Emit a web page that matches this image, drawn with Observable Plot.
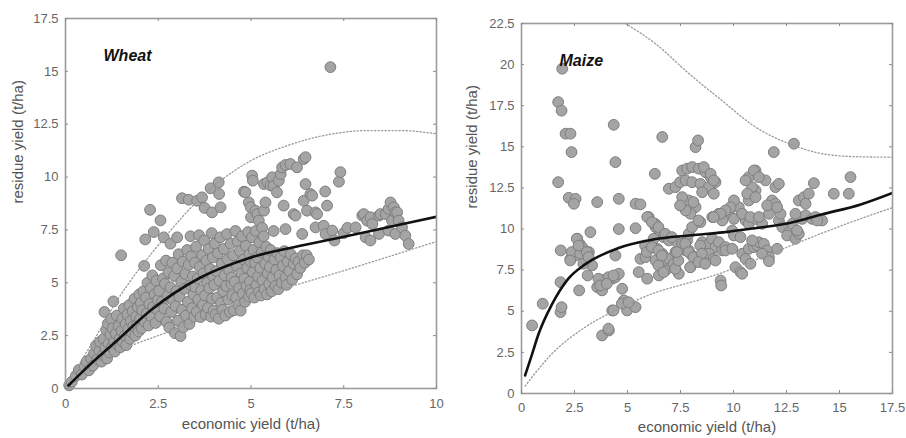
<!DOCTYPE html>
<html><head><meta charset="utf-8">
<script src="https://cdn.jsdelivr.net/npm/d3@7"></script>
<script src="https://cdn.jsdelivr.net/npm/@observablehq/plot@0.6"></script>
<style>
body{margin:0;background:#fff;}
#wrap{position:relative;width:906px;height:438px;overflow:hidden;}
#wrap svg{position:absolute;top:0;font-family:"Liberation Sans",Arial,sans-serif;}
</style></head><body><div id="wrap"></div>
<script>
// ---------- Wheat ----------
const wheatTitle = "Wheat";
const wheatXTicks = [0, 2.5, 5, 7.5, 10];
const wheatYTicks = [0, 2.5, 5, 7.5, 10, 12.5, 15, 17.5];
const wheatPoints = [
[0.1,0.15],[0.17,0.32],[0.28,0.6],[0.36,0.88],[0.44,0.66],[0.52,1.04],[0.57,1.28],[0.63,0.86],[0.69,1.41],[0.74,1.08],[0.77,1.66],[0.82,2.02],[0.86,1.38],[0.91,1.79],[0.93,2.2],[0.97,1.27],
[1.01,1.58],[1.03,2.35],[1.05,3.62],[1.07,1.92],[1.1,2.76],[1.12,1.42],[1.14,3.07],[1.16,2.12],[1.19,1.7],[1.21,2.55],[1.23,3.3],[1.25,1.95],[1.27,2.85],[1.29,4.12],[1.31,2.2],[1.33,1.75],[1.36,2.6],[1.38,3.45],[1.41,2.05],[1.43,2.95],[1.46,2.35],[1.48,1.95],[1.5,6.3],
[1.51,2.72],[1.53,3.3],[1.55,2.2],[1.57,3.78],[1.6,2.5],[1.62,3.05],[1.64,2.05],[1.67,3.5],[1.69,2.8],[1.72,3.95],[1.74,2.35],[1.76,3.2],[1.79,2.65],[1.81,3.65],[1.83,2.95],[1.86,4.25],[1.88,2.5],[1.9,3.4],[1.93,3.0],[1.95,3.85],[1.97,2.7],[1.99,4.45],
[2.01,3.3],[2.03,4.05],[2.05,2.85],[2.07,3.7],[2.1,4.6],[2.12,5.8],[2.14,3.15],[2.15,7.05],[2.17,4.3],[2.19,3.55],[2.21,5.0],[2.24,2.98],[2.26,4.0],[2.28,8.45],[2.3,4.75],[2.32,3.4],[2.34,5.35],[2.36,3.85],[2.38,7.4],[2.4,4.45],[2.43,3.1],[2.45,5.1],[2.47,3.75],[2.49,4.2],
[2.52,4.62],[2.55,3.41],[2.56,7.95],[2.57,5.83],[2.6,4.1],[2.63,5.2],[2.65,7.15],[2.66,3.78],[2.68,4.95],[2.71,6.05],[2.72,3.15],[2.75,4.4],[2.78,5.5],[2.8,2.88],[2.83,4.78],[2.83,6.85],[2.85,3.62],[2.88,5.95],[2.9,4.15],[2.93,5.32],[2.95,2.62],[2.97,3.9],[2.99,4.6],
[3.01,5.68],[3.01,7.15],[3.03,3.2],[3.05,6.35],[3.07,4.35],[3.1,2.48],[3.12,5.05],[3.14,3.72],[3.14,9.0],[3.16,6.0],[3.18,2.9],[3.21,4.72],[3.23,5.42],[3.25,3.45],[3.28,6.55],[3.3,4.1],[3.32,5.85],[3.32,8.93],[3.34,3.05],[3.37,4.9],[3.37,7.2],[3.39,6.25],[3.41,3.8],[3.43,5.3],[3.45,4.45],[3.47,3.4],[3.49,5.95],[3.5,4.8],
[3.52,6.7],[3.54,3.62],[3.55,8.88],[3.56,5.2],[3.58,4.2],[3.6,7.25],[3.62,5.75],[3.64,3.38],[3.66,4.65],[3.68,6.3],[3.68,9.04],[3.7,3.95],[3.72,5.45],[3.74,7.0],[3.75,8.54],[3.76,4.4],[3.78,3.5],[3.8,6.05],[3.82,5.0],[3.84,3.82],[3.86,6.6],[3.88,4.75],[3.9,5.65],[3.91,9.47],[3.92,3.4],[3.94,7.35],[3.95,8.33],[3.95,4.25],[3.97,6.2],[3.98,5.3],[3.99,3.68],
[4.01,4.9],[4.03,6.85],[4.05,3.5],[4.07,5.55],[4.09,4.3],[4.11,6.4],[4.13,3.3],[4.13,9.75],[4.14,9.2],[4.15,5.1],[4.17,7.15],[4.18,8.57],[4.19,4.05],[4.21,5.9],[4.23,3.72],[4.25,4.6],[4.27,6.6],[4.29,5.35],[4.31,3.45],[4.33,4.85],[4.35,7.3],[4.37,6.1],[4.39,4.2],[4.41,5.6],[4.43,3.62],[4.45,6.85],[4.47,4.95],[4.48,5.25],[4.5,4.4],
[4.52,6.3],[4.54,3.7],[4.56,5.05],[4.58,7.45],[4.6,4.3],[4.62,5.8],[4.64,6.95],[4.66,3.95],[4.68,4.75],[4.7,6.5],[4.72,3.68],[4.74,5.45],[4.76,7.2],[4.78,4.5],[4.8,6.1],[4.81,9.31],[4.82,5.2],[4.84,4.1],[4.85,9.28],[4.86,6.75],[4.88,4.85],[4.9,5.7],[4.92,7.4],[4.94,4.35],[4.94,8.8],[4.96,6.35],[4.97,5.05],[4.98,4.65],[4.99,6.0],[4.99,8.57],[5.0,8.1],
[5.01,4.5],[5.03,7.15],[5.03,10.07],[5.05,5.5],[5.05,9.83],[5.07,6.55],[5.09,4.3],[5.11,5.95],[5.12,8.41],[5.13,7.45],[5.15,4.9],[5.17,6.2],[5.17,8.25],[5.19,5.3],[5.21,4.55],[5.21,7.94],[5.23,6.9],[5.25,5.7],[5.27,4.4],[5.29,6.45],[5.3,7.6],[5.31,5.1],[5.34,7.2],[5.35,8.41],[5.35,9.67],[5.36,4.7],[5.38,5.9],[5.39,8.8],[5.41,6.7],[5.43,4.45],[5.44,9.75],[5.45,5.45],[5.47,6.25],[5.49,4.95],
[5.51,5.75],[5.53,6.55],[5.53,9.6],[5.56,4.6],[5.57,9.99],[5.58,5.25],[5.61,7.45],[5.61,9.59],[5.63,6.1],[5.66,4.85],[5.68,5.6],[5.7,9.28],[5.71,6.4],[5.74,4.7],[5.75,9.83],[5.77,5.35],[5.8,6.2],[5.8,10.14],[5.83,5.0],[5.84,10.46],[5.86,5.8],[5.88,8.65],[5.9,6.5],[5.93,5.25],[5.93,10.57],[5.93,7.54],[5.96,4.9],[5.99,6.0],
[6.03,5.55],[6.06,10.62],[6.07,6.35],[6.11,5.15],[6.15,5.9],[6.15,8.25],[6.2,6.15],[6.2,8.18],[6.24,5.4],[6.24,10.46],[6.28,6.0],[6.33,5.7],[6.38,7.31],[6.4,6.3],[6.42,10.85],[6.42,8.88],[6.45,5.95],[6.47,9.67],[6.47,10.94],[6.5,6.3],[6.51,8.41],[6.56,6.1],[6.6,9.2],[6.65,9.12],
[6.74,8.33],[6.74,7.62],[6.78,8.25],[6.96,7.7],[7.0,9.32],[7.01,7.31],[7.05,8.65],[7.14,15.2],[7.19,7.47],[7.25,7.0],[7.37,9.78],[7.41,10.23],[7.5,7.35],[7.6,7.6],[7.82,7.62],[8.0,8.18],[8.04,8.25],[8.09,7.15],[8.13,7.94],[8.22,8.1],[8.22,7.0],[8.27,7.78],[8.45,8.18],[8.45,7.31],[8.49,8.25],[8.63,8.25],[8.71,8.49],[8.71,7.47],[8.76,8.8],[8.8,7.94],[8.85,8.57],[8.89,8.33],[8.89,7.31],[8.94,8.33],[8.98,7.94],[9.07,7.62],[9.16,7.23],[9.25,6.84]
];
const wheatFit = [[0.08,0.14],[0.58,1.0],[1.39,2.27],[2.29,3.69],[3.64,5.25],[5.0,6.2],[6.33,6.75],[7.5,7.18],[8.75,7.65],[10,8.12]];
const wheatUpper = [[0.1,0.4],[0.76,2.27],[1.39,4.16],[2.02,5.73],[2.38,6.52],[2.83,7.47],[3.46,8.7],[4.18,9.83],[4.99,10.77],[6.0,11.5],[7.22,12.05],[8.14,12.2],[9.0,12.2],[10,12.05]];
const wheatLower = [[0.1,0.2],[0.4,0.69],[1.48,1.8],[2.74,2.66],[4.0,3.55],[5.5,4.5],[7.55,5.6],[10,6.95]];

// ---------- Maize ----------
const maizeTitle = "Maize";
const maizeXTicks = [0, 2.5, 5, 7.5, 10, 12.5, 15, 17.5];
const maizeYTicks = [0, 2.5, 5, 7.5, 10, 12.5, 15, 17.5, 20, 22.5];
const maizePoints = [
[0.5,4.14],[1.0,5.46],[1.84,4.95],[1.89,5.25],[1.84,6.77],[1.85,8.7],[2.31,8.19],[2.55,8.39],[2.63,9.41],[2.74,9.1],[2.86,8.9],[2.94,8.5],[3.1,8.09],[3.18,8.6],[3.33,7.79],[3.12,7.18],[2.72,6.27],[3.25,9.81],
[3.57,6.47],[3.73,6.67],[3.8,6.27],[4.04,6.87],[4.28,6.98],[4.43,7.07],[4.59,7.28],[3.87,6.9],[4.43,8.39],[4.59,10.0],[3.8,3.53],[4.12,3.83],[4.28,5.05],[4.75,6.37],[4.83,5.66],[4.98,5.05],[5.38,5.25],[4.73,5.46],[5.05,5.55],[5.38,10.05],
[5.53,7.38],[5.61,8.19],[5.85,8.29],[5.93,6.98],[6.0,10.73],[6.32,10.12],[6.56,9.81],[6.71,9.51],[6.95,9.31],[6.16,9.0],[6.4,8.8],[6.64,8.5],[6.32,8.09],[6.64,7.68],[6.48,7.18],[6.79,7.48],[6.95,8.19],[7.18,7.89],[7.26,8.6],[7.34,9.2],[7.58,9.1],[7.74,8.7],[7.81,9.31],[7.89,9.71],[8.05,10.12],[7.26,7.58],[7.42,7.28],[7.89,8.7],[8.05,8.39],[7.97,7.68],
[8.44,10.42],[8.52,9.2],[8.68,8.9],[8.84,9.1],[8.99,9.41],[9.15,8.9],[9.31,9.2],[9.47,8.7],[9.62,8.9],[8.84,8.5],[9.07,8.19],[9.0,10.73],[9.31,10.93],[9.47,10.52],[9.39,6.87],[9.42,6.57],[9.15,8.09],
[9.78,11.03],[10.02,10.62],[9.94,9.91],[10.02,9.61],[10.33,9.51],[9.62,8.7],[9.94,8.8],[10.09,7.68],[10.33,7.38],[10.41,7.28],[10.41,10.93],[10.41,8.5],[10.57,8.19],[10.72,8.8],[10.96,8.9],[10.8,7.89],[11.12,9.0],[11.2,9.2],[11.43,9.1],[11.59,8.7],[11.67,8.29],[11.35,8.5],[10.88,9.31],[10.57,10.52],[10.72,10.32],[11.04,10.62],[11.35,10.32],
[12.06,8.8],[12.14,10.52],[12.3,10.12],[12.61,9.81],[12.53,9.61],[12.92,9.41],[13.08,9.71],[12.77,10.32],[13.24,10.62],[13.4,10.83],[13.71,10.62],[13.87,10.73],[14.18,10.52],[12.92,10.93],[11.67,8.05],[13.0,9.91],[13.95,10.52],
[1.92,19.75],[1.73,17.72],[1.89,17.2],[2.08,15.8],[2.31,15.8],[2.36,14.68],[1.73,12.85],[2.23,11.9],[2.55,11.84],[2.47,11.54],[3.57,11.64],[4.35,16.34],[4.43,14.07],[4.59,11.84],[5.38,11.54],[5.61,11.5],[5.93,10.73],[6.31,10.32],[6.29,13.36],[6.64,15.6],
[6.95,12.45],[7.26,12.55],[7.48,12.85],[7.58,13.56],[7.81,13.67],[8.05,13.77],[8.36,13.67],[8.68,13.46],[8.92,13.16],[9.15,12.85],[7.74,12.96],[8.05,12.85],[8.44,12.75],[8.84,12.55],[9.07,12.15],[8.52,12.24],[7.89,11.74],[7.58,11.94],[8.21,11.33],[7.97,10.93],[7.74,11.13],[7.48,11.44],[8.11,11.64],[8.35,10.52],[8.21,14.98],[8.33,15.39],[8.6,13.77],[8.92,13.36],[9.07,12.96],
[11.9,14.68],[12.85,15.19],[10.25,11.33],[10.72,11.74],[11.04,12.35],[10.72,13.16],[11.04,13.56],[10.88,12.55],[11.51,12.96],[11.98,12.55],[12.14,12.75],[11.82,11.74],[11.98,11.54],[11.67,10.93],[12.22,10.93],[13.08,11.74],[13.32,11.94],[13.55,12.15],[13.79,12.79],[13.4,11.54],[14.73,12.15],[15.44,12.15],[15.52,13.16],
[10.96,13.56],[10.57,12.96],[11.2,13.16],[10.65,12.15],[11.04,11.94],[11.59,11.44],[12.06,11.33],[10.02,11.74],[9.86,11.33],[9.62,11.13],[9.39,10.93],[9.07,10.73],[10.41,10.93],[10.8,10.73],[11.2,10.73],
[6.15,10.42],[6.46,10.12],[6.78,9.71],[7.09,9.51],[6.23,9.41],[5.83,9.0],[5.91,8.6],[6.15,8.9],[6.46,8.7],[6.62,8.39],[6.46,7.79],[6.7,7.38],[7.25,7.58],[7.4,8.09],[7.33,8.6],[7.72,9.1],[7.88,8.6],[8.11,8.29],[7.96,7.68],[8.43,9.0],[8.5,8.5],[8.35,7.99],[8.66,7.89],
[3.63,6.98],[4.1,7.07],[4.34,7.18],[3.71,6.57],[4.02,6.67],[4.34,5.05],[4.1,3.94],[2.37,8.6],[2.3,8.09],[2.77,8.5],[2.92,7.89],[2.61,9.41],[2.69,9.0],[3.08,8.6],[3.16,8.29]
];
const maizeFit = [[0.17,1.1],[0.5,2.4],[0.8,3.6],[1.43,5.4],[2.22,7.0],[3.0,7.85],[4.58,8.85],[6.15,9.35],[8.0,9.62],[9.5,9.8],[11,10.05],[12.6,10.35],[14.2,10.9],[16,11.5],[17.5,12.2]];
const maizeUpper = [[4.9,22.5],[6.32,21.27],[7.9,19.45],[9.47,17.8],[11.04,16.2],[12.6,15.2],[14.2,14.58],[15.8,14.4],[17.5,14.37]];
const maizeLower = [[0.17,0.45],[1.43,2.41],[3.0,4.03],[4.58,5.15],[6.15,6.06],[7.72,6.67],[8.82,7.07],[11,8.1],[13.2,9.25],[15.5,10.4],[17.5,11.3]];

const xLabel = "economic yield (t/ha)";
const yLabel = "residue yield (t/ha)";

function panel(o) {
  const W = 453, H = 438;
  const innerH = H - o.mt - o.mb, innerW = W - o.ml - o.mr;
  const tickCol = "#8a8a8a", textCol = "#666";
  const xy = {x: d => d[0], y: d => d[1]};
  return Plot.plot({
    width: W, height: H,
    marginLeft: o.ml, marginRight: o.mr, marginTop: o.mt, marginBottom: o.mb,
    style: {fontFamily: "'Liberation Sans', Arial, sans-serif", background: "transparent"},
    x: {domain: [0, o.xMax]},
    y: {domain: [0, o.yMax]},
    marks: [
      Plot.dot(o.points, {...xy, r: 5.4, fill: "#a4a4a4", stroke: "#7e7e7e", strokeWidth: 1}),
      Plot.line(o.upper, {...xy, curve: "monotone-x", stroke: "#9a9a9a", strokeWidth: 1.3, strokeDasharray: "1.3,2.2", clip: true}),
      Plot.line(o.lower, {...xy, curve: "monotone-x", stroke: "#9a9a9a", strokeWidth: 1.3, strokeDasharray: "1.3,2.2", clip: true}),
      Plot.line(o.fit, {...xy, curve: "monotone-x", stroke: "#111", strokeWidth: 2.6, clip: true}),
      Plot.frame({stroke: "#9c9c9c", strokeWidth: 1.6}),
      Plot.tickX(o.xTicks, {x: d => d, insetTop: innerH - 3, stroke: tickCol}),
      Plot.tickX(o.xTicks, {x: d => d, insetBottom: innerH - 3, stroke: tickCol}),
      Plot.tickY(o.yTicks, {y: d => d, insetRight: innerW - 3, stroke: tickCol}),
      Plot.tickY(o.yTicks, {y: d => d, insetLeft: innerW - 3, stroke: tickCol}),
      Plot.axisX(o.xTicks, {tickSize: 0, tickPadding: o.xPad, fontSize: 13, fill: textCol, tickFormat: d => String(d), label: null}),
      Plot.axisY(o.yTicks, {tickSize: 0, tickPadding: 7, fontSize: 13, fill: textCol, tickFormat: d => String(d), label: null}),
      Plot.text([o.title], {frameAnchor: "top-left", dx: 38, dy: 31, textAnchor: "start", fontSize: 16, fontWeight: "bold", fontStyle: "italic", fill: "#111"}),
      Plot.text([xLabel], {frameAnchor: "bottom", dy: o.xLabDy, fontSize: 15, fill: "#555"}),
      Plot.text([yLabel], {frameAnchor: "left", dx: o.yLabDx, rotate: -90, fontSize: 15, fill: "#555"})
    ]
  });
}

const wrap = document.getElementById("wrap");
const left = panel({points: wheatPoints, fit: wheatFit, upper: wheatUpper, lower: wheatLower,
  xTicks: wheatXTicks, yTicks: wheatYTicks, xMax: 10, yMax: 17.5, title: wheatTitle,
  ml: 65, mr: 17, mt: 18, mb: 50, xPad: 10, xLabDy: 40, yLabDx: -47});
left.style.left = "0px";
wrap.appendChild(left);
const right = panel({points: maizePoints, fit: maizeFit, upper: maizeUpper, lower: maizeLower,
  xTicks: maizeXTicks, yTicks: maizeYTicks, xMax: 17.5, yMax: 22.5, title: maizeTitle,
  ml: 68, mr: 14, mt: 23, mb: 45, xPad: 9, xLabDy: 38, yLabDx: -49});
right.style.left = "453px";
wrap.appendChild(right);
</script>
</body></html>
